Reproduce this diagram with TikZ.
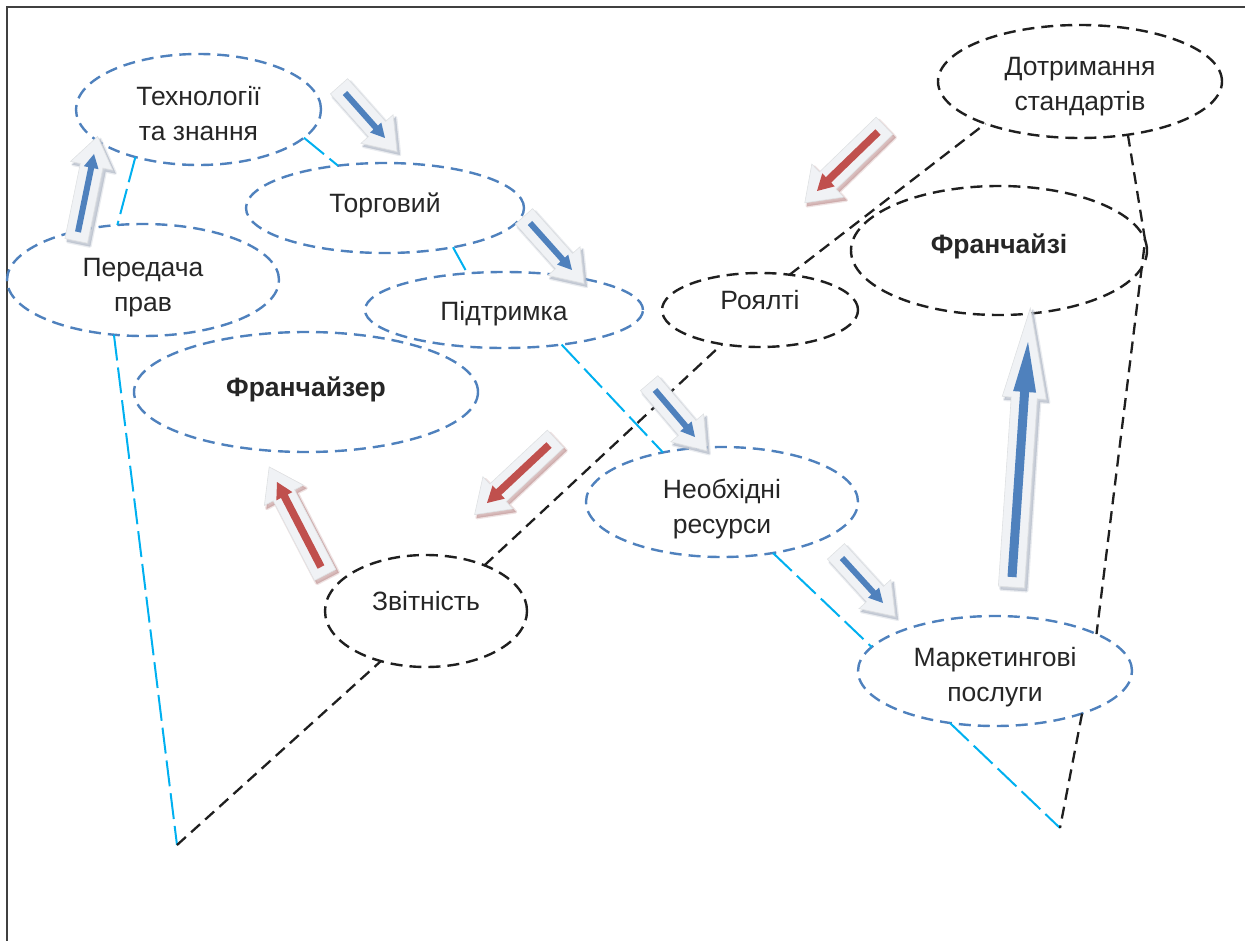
\documentclass[tikz,border=0pt]{standalone}
\usepackage{fontspec}
\setmainfont{Liberation Sans}
\usetikzlibrary{calc,shapes.geometric}
\definecolor{ellblue}{HTML}{4F81BD}
\definecolor{ellblack}{HTML}{1F1F1F}
\definecolor{cyanln}{HTML}{00B0F0}
\definecolor{txt}{HTML}{262626}
\definecolor{arrblue}{HTML}{4F81BD}
\definecolor{arrred}{HTML}{C0504D}
\definecolor{arrbody}{HTML}{F0F2F5}
\definecolor{shblue}{HTML}{B9C0CC}
\definecolor{shred}{HTML}{C9A3A3}
\definecolor{framec}{HTML}{404040}

\newcommand\elltext[2]{\raisebox{#1}[\height][\depth]{\begin{tabular}{@{}c@{}}#2\end{tabular}}}
\newcommand\arrowpoly[6]{%
  \path[#6] ($(#1)!#3!90:(#2)$) -- ($(#2)!#5!(#1)!#3!-90:(#1)$) -- ($(#2)!#5!(#1)!#4!-90:(#1)$) -- (#2)
   -- ($(#2)!#5!(#1)!#4!90:(#1)$) -- ($(#2)!#5!(#1)!#3!90:(#1)$) -- ($(#1)!#3!-90:(#2)$) -- cycle;}
\newcommand\smallarrowset{\def\aIs{3pt}\def\aIh{7.5pt}\def\aIl{14pt}\def\aOs{11.5pt}\def\aOh{21.5pt}\def\aOl{30pt}\def\aEb{9pt}\def\aEf{18pt}}
\newcommand\redarrowset{\def\aIs{3.8pt}\def\aIh{9pt}\def\aIl{16pt}\def\aOs{12pt}\def\aOh{22pt}\def\aOl{32pt}\def\aEb{9pt}\def\aEf{17pt}}
\newcommand\bigarrowset{\def\aIs{4.5pt}\def\aIh{11.5pt}\def\aIl{50pt}\def\aOs{13pt}\def\aOh{22pt}\def\aOl{90pt}\def\aEb{10pt}\def\aEf{34pt}}
\newcommand\drawshadedarrow[3]{%
  \coordinate (#1ot) at ($(#1t)!\aEb!180:(#1h)$);
  \coordinate (#1oh) at ($(#1h)!\aEf!180:(#1t)$);
  \coordinate (#1st) at ($(#1ot)+(2.5pt,-3pt)$);
  \coordinate (#1sh) at ($(#1oh)+(2.5pt,-3pt)$);
  \arrowpoly{#1st}{#1sh}{\aOs}{\aOh}{\aOl}{draw=#3, line width=3.5pt, line join=round, opacity=0.3}
  \arrowpoly{#1st}{#1sh}{\aOs}{\aOh}{\aOl}{fill=#3, draw=#3, line width=1pt, opacity=0.7}
  \arrowpoly{#1ot}{#1oh}{\aOs}{\aOh}{\aOl}{fill=arrbody, draw=arrbody!85!gray, line width=0.6pt}
  \arrowpoly{#1t}{#1h}{\aIs}{\aIh}{\aIl}{fill=#2}}

\tikzset{
  ellbase/.style={ellipse, line width=2.4pt, dash pattern=on 12pt off 7pt, inner sep=0pt, outer sep=0pt,
    text=txt, font=\fontsize{26.5}{35}\selectfont},
  ellb/.style={ellbase, draw=ellblue},
  ellk/.style={ellbase, draw=ellblack},
  cyanline/.style={draw=cyanln, line width=2pt, dash pattern=on 26pt off 7pt},
  blackline/.style={draw=ellblack, line width=2.3pt, dash pattern=on 12pt off 7pt},
}

\begin{document}
\begin{tikzpicture}[x=1pt,y=-1pt]
\useasboundingbox (0,0) rectangle (1245,941);
\draw[framec, line width=2pt] (7,941) -- (7,7) -- (1245,7);

% ellipses
\node[ellb, minimum width=245pt, minimum height=111pt] (tech) at (198.5,109.5) {\elltext{-7pt}{Технології\\та знання}};
\node[ellb, minimum width=278pt, minimum height=90pt] (torg) at (385,208) {\elltext{2.5pt}{Торговий}};
\node[ellb, minimum width=272pt, minimum height=112pt] (pered) at (143,280) {\elltext{-7.5pt}{Передача\\прав}};
\node[ellb, minimum width=278pt, minimum height=76pt] (pidt) at (504,310) {\elltext{-3.5pt}{Підтримка}};
\node[ellb, minimum width=344pt, minimum height=120pt] (frzr) at (306,392) {\elltext{3pt}{\bfseries Франчайзер}};
\node[ellk, minimum width=202pt, minimum height=112pt] (zvit) at (426,611) {\elltext{7.5pt}{Звітність}};
\node[ellb, minimum width=272pt, minimum height=110pt] (resurs) at (722,502) {\elltext{-6.5pt}{Необхідні\\ресурси}};
\node[ellk, minimum width=196pt, minimum height=74pt] (roy) at (760,310) {\elltext{7.5pt}{Роялті}};
\node[ellk, minimum width=284pt, minimum height=113pt] (dotr) at (1080,81.5) {\elltext{-4.5pt}{Дотримання\\стандартів}};
\node[ellk, minimum width=296pt, minimum height=129pt] (frzi) at (999,250.5) {\elltext{3.5pt}{\bfseries Франчайзі}};
\node[ellb, minimum width=274pt, minimum height=110pt] (market) at (995,671) {\elltext{-6pt}{Маркетингові\\послуги}};

\coordinate (apexL) at (177,845);
\coordinate (apexR) at (1060,828);

% cyan connectors
\draw[cyanline] (tech.217) -- (pered.115);
\draw[cyanline] (pered.242) -- (apexL);
\draw[cyanline] (tech.-15) -- (torg.138);
\draw[cyanline] (torg.-30) -- (pidt.135);
\draw[cyanline] (pidt.-31) -- (resurs.140);
\draw[cyanline] (resurs.-45) -- (market.169);
\draw[cyanline] (market.229) -- (apexR);

% black connectors
\draw[blackline] (apexL) -- (zvit.228);
\draw[blackline] (zvit.38) -- (roy.222);
\draw[blackline] (roy.50) -- (dotr.204);
\draw[blackline] (dotr.-48) -- (frzi.4) -- (market.20);
\draw[blackline] (market.-26) -- (apexR);

% block arrows
\coordinate (a1t) at (78,232);   \coordinate (a1h) at (94,154);
\coordinate (a2t) at (345,93);   \coordinate (a2h) at (385,138);
\coordinate (a3t) at (530,223);  \coordinate (a3h) at (572,270);
\coordinate (a4t) at (655,390);  \coordinate (a4h) at (695,437);
\coordinate (a5t) at (842,558);  \coordinate (a5h) at (883,603);
\coordinate (a6t) at (1012,577); \coordinate (a6h) at (1028,342);
\coordinate (a7t) at (878,132);  \coordinate (a7h) at (817,191);
\coordinate (a8t) at (549,445);  \coordinate (a8h) at (487,503);
\coordinate (a9t) at (321,567);  \coordinate (a9h) at (277,482);

\smallarrowset
\drawshadedarrow{a1}{arrblue}{shblue}
\drawshadedarrow{a2}{arrblue}{shblue}
\drawshadedarrow{a3}{arrblue}{shblue}
\drawshadedarrow{a4}{arrblue}{shblue}
\drawshadedarrow{a5}{arrblue}{shblue}
\redarrowset
\drawshadedarrow{a8}{arrred}{shred}
\drawshadedarrow{a9}{arrred}{shred}
\def\aOh{23pt}
\drawshadedarrow{a7}{arrred}{shred}
\bigarrowset
\drawshadedarrow{a6}{arrblue}{shblue}
\end{tikzpicture}
\end{document}
